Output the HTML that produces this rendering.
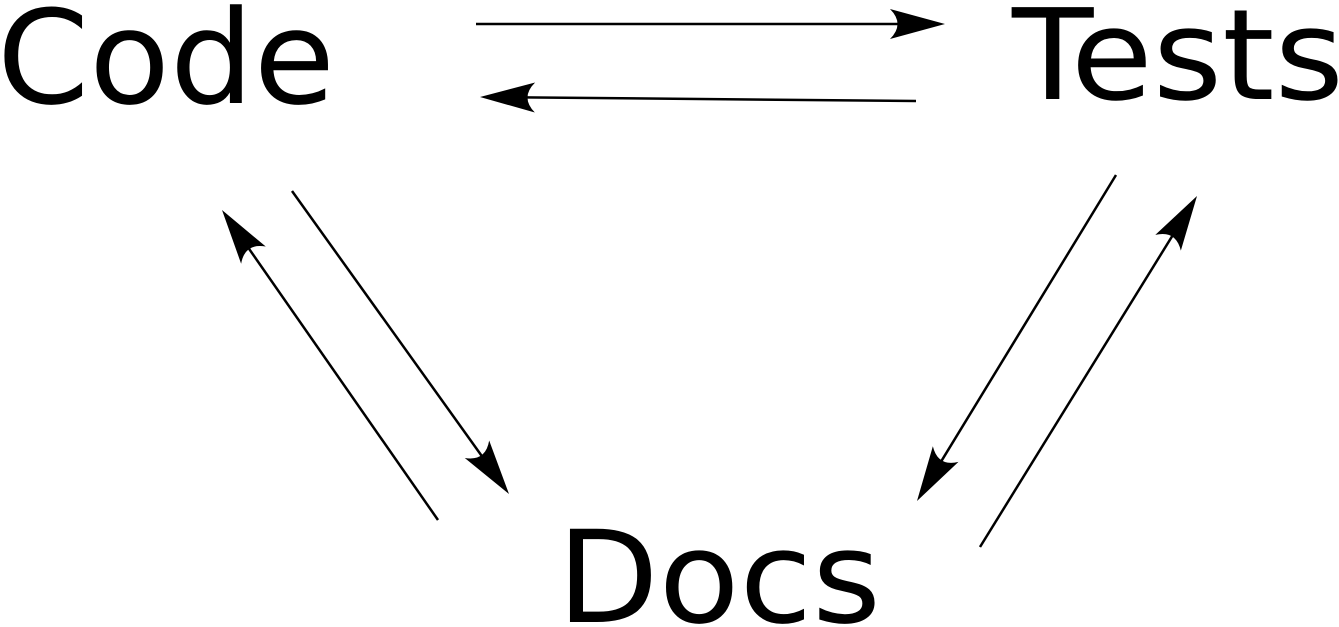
<!DOCTYPE html>
<html>
<head>
<meta charset="utf-8">
<style>
html,body{margin:0;padding:0;background:#fff;}
svg{display:block;}
text{font-family:"DejaVu Sans","Liberation Sans",sans-serif;fill:#000;}
</style>
</head>
<body>
<svg width="1339" height="627" viewBox="0 0 1339 627">
  <text x="-3" y="103" font-size="130" textLength="338" lengthAdjust="spacingAndGlyphs">Code</text>
  <text x="1012" y="99" font-size="126" textLength="332" lengthAdjust="spacingAndGlyphs">Tests</text>
  <text x="557" y="622" font-size="128" textLength="324" lengthAdjust="spacingAndGlyphs">Docs</text>
  <g id="arrows" stroke="#000" stroke-width="2.5" fill="#000"></g>
</svg>
<script>
const arrowNames = ['arrow-code-to-tests','arrow-tests-to-code','arrow-code-to-docs','arrow-docs-to-code','arrow-tests-to-docs','arrow-docs-to-tests'];
const arrowStarts = [[476,24],[916,101],[292,191],[438,520],[1116,175],[980,547]];
const arrowEnds = [[945,24],[480,97],[509,494],[222,210],[917,501],[1197,196]];
const g = document.getElementById('arrows');
const NS = 'http://www.w3.org/2000/svg';
arrowNames.forEach((name, i) => {
  const [x1,y1] = arrowStarts[i], [x2,y2] = arrowEnds[i];
  const dx = x2-x1, dy = y2-y1, L = Math.hypot(dx,dy);
  const ux = dx/L, uy = dy/L, px = -uy, py = ux;
  const grp = document.createElementNS(NS,'g');
  
  
  const line = document.createElementNS(NS,'line');
  line.setAttribute('x1', x1); line.setAttribute('y1', y1);
  line.setAttribute('x2', x2-ux*20); line.setAttribute('y2', y2-uy*20);
  grp.appendChild(line);
  const len = 55, w = 15, back = 40;
  const tip = [x2,y2];
  const bl = [x2-ux*len+px*w, y2-uy*len+py*w];
  const br = [x2-ux*len-px*w, y2-uy*len-py*w];
  const mid = [x2-ux*back, y2-uy*back];
  const head = document.createElementNS(NS,'path');
  head.setAttribute('d', `M${tip[0]},${tip[1]} L${bl[0]},${bl[1]} Q${mid[0]},${mid[1]} ${br[0]},${br[1]} Z`);
  head.setAttribute('stroke','none');
  grp.appendChild(head);
  g.appendChild(grp);
});
</script>
</body>
</html>
